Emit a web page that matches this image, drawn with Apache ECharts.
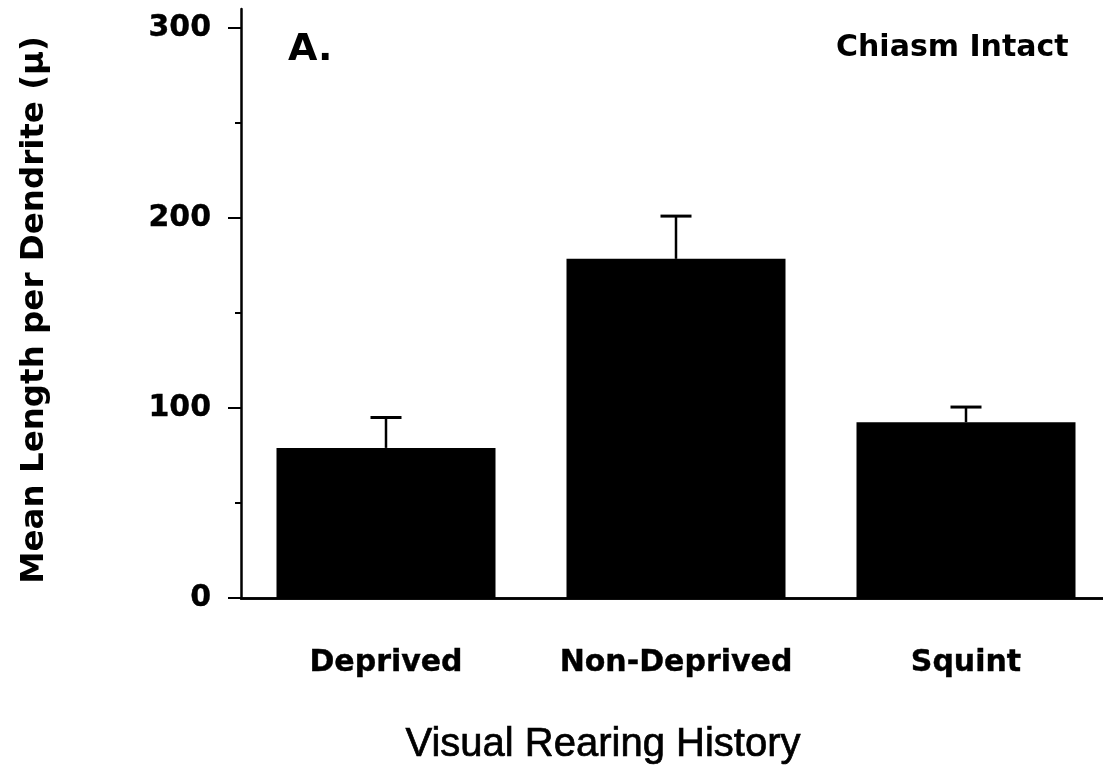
<!DOCTYPE html>
<html>
<head>
<meta charset="utf-8">
<script src="https://cdn.jsdelivr.net/npm/echarts@6/dist/echarts.min.js"></script>
<style>
  html, body { margin: 0; padding: 0; background: #fff; }
  #chart { width: 1103px; height: 771px; }
</style>
</head>
<body>
<div id="chart"></div>
<script>
const categories = ['Deprived', 'Non-Deprived', 'Squint'];
const meanLength = [79, 178.5, 92.5];
const errorTop = [95, 201, 100.5];
const yMajorTicks = [0, 100, 200, 300];
const yMinorTicks = [50, 150, 250];
const yAxisTitle = 'Mean Length per Dendrite (\u03bc)';
const xAxisTitle = 'Visual Rearing History';
const panelLabel = 'A.';
const conditionLabel = 'Chiasm Intact';

const chart = echarts.init(document.getElementById('chart'));
const boldFont = { fontFamily: 'DejaVu Sans', fontWeight: 'bold', color: '#000' };

const option = {
  backgroundColor: '#fff',
  animation: false,
  grid: { left: 241, top: 9, width: 870, height: 589, containLabel: false, outerBoundsMode: 'none' },
  xAxis: [
    {
      type: 'category', data: categories, position: 'bottom',
      axisLine: { show: true, lineStyle: { color: '#000', width: 2.5 } },
      axisTick: { show: false },
      axisLabel: Object.assign({ fontSize: 30, margin: 50, interval: 0, textBorderColor: '#000', textBorderWidth: 0.4 }, boldFont),
      splitLine: { show: false }
    },
    {
      type: 'category', data: categories, position: 'top',
      axisLine: { show: true, lineStyle: { color: '#000', width: 2.5 } },
      axisTick: { show: false }, axisLabel: { show: false }, splitLine: { show: false }
    }
  ],
  yAxis: [
    {
      type: 'value', min: 0, max: 310, position: 'left',
      axisLine: { show: true, lineStyle: { color: '#000', width: 2.5 } },
      axisTick: { show: true, length: 13, customValues: yMajorTicks, lineStyle: { color: '#000', width: 2 } },
      axisLabel: Object.assign({ fontSize: 30, margin: 30, customValues: yMajorTicks, textBorderColor: '#000', textBorderWidth: 0.4 }, boldFont),
      splitLine: { show: false }
    },
    {
      type: 'value', min: 0, max: 310, position: 'left',
      axisLine: { show: false },
      axisTick: { show: true, length: 6, customValues: yMinorTicks, lineStyle: { color: '#000', width: 2 } },
      axisLabel: { show: false }, splitLine: { show: false }
    }
  ],
  graphic: [
    { type: 'text', x: 35, y: 310, rotation: Math.PI / 2,
      style: { text: yAxisTitle, fontSize: 32.5, fill: '#000', fontFamily: 'DejaVu Sans', fontWeight: 'bold', align: 'center', verticalAlign: 'middle' } },
    { type: 'text', x: 288, y: 50,
      style: { text: panelLabel, fontSize: 38, fill: '#000', fontFamily: 'DejaVu Sans', fontWeight: 'bold', align: 'left', verticalAlign: 'middle' } },
    { type: 'text', x: 836, y: 48,
      style: { text: conditionLabel, fontSize: 30, fill: '#000', fontFamily: 'DejaVu Sans', fontWeight: 'bold', align: 'left', verticalAlign: 'middle' } },
    { type: 'text', x: 603, y: 745,
      style: { text: xAxisTitle, fontSize: 40, fill: '#000', fontFamily: 'Liberation Sans', align: 'center', verticalAlign: 'middle', stroke: '#000', lineWidth: 0.7 } }
  ],
  series: [
    {
      type: 'bar', xAxisIndex: 0, yAxisIndex: 0, data: meanLength,
      barWidth: 219, itemStyle: { color: '#000' }, silent: true
    },
    {
      type: 'custom', xAxisIndex: 0, yAxisIndex: 0, z: 5,
      data: categories.map((c, i) => [i, meanLength[i], errorTop[i]]),
      encode: { x: 0, y: [1, 2] },
      renderItem: function (params, api) {
        const top = api.coord([api.value(0), api.value(2)]);
        const bot = api.coord([api.value(0), api.value(1)]);
        const half = 15.5;
        return {
          type: 'group',
          children: [
            { type: 'line', shape: { x1: top[0], y1: top[1], x2: bot[0], y2: bot[1] }, style: { stroke: '#000', lineWidth: 2.5 } },
            { type: 'line', shape: { x1: top[0] - half, y1: top[1], x2: top[0] + half, y2: top[1] }, style: { stroke: '#000', lineWidth: 3 } }
          ]
        };
      }
    }
  ]
};
chart.setOption(option);
</script>
</body>
</html>
